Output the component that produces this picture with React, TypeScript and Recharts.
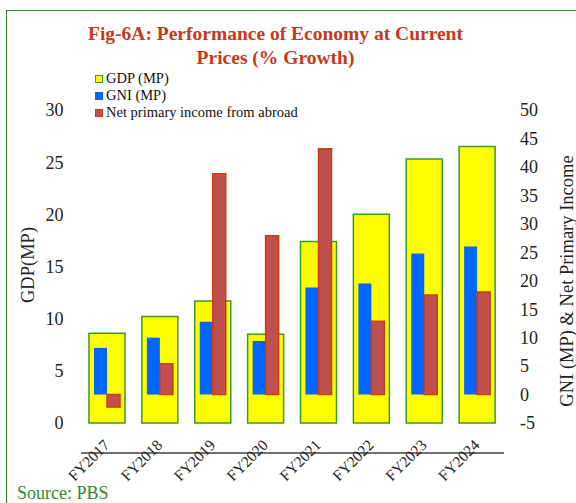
import React from 'react'
import { ComposedChart, Bar, XAxis, YAxis, Legend } from 'recharts'

const years = ['FY2017', 'FY2018', 'FY2019', 'FY2020', 'FY2021', 'FY2022', 'FY2023', 'FY2024']
const gdp = [8.6, 10.2, 11.7, 8.5, 17.4, 20.0, 25.3, 26.5]
const gni = [8.2, 10.0, 12.8, 9.4, 18.8, 19.5, 24.8, 26.0]
const netIncome = [-2.2, 5.4, 38.8, 27.9, 43.2, 12.9, 17.5, 18.0]
const leftTicks = [0, 5, 10, 15, 20, 25, 30]
const rightTicks = [-5, 0, 5, 10, 15, 20, 25, 30, 35, 40, 45, 50]

const rows = years.map((year, i) => ({ year, gdp: gdp[i], gni: gni[i], net: netIncome[i] }))

const FONT = '"Liberation Serif", "Times New Roman", serif'
const TICK = { fontSize: 18, fill: '#222', fontFamily: FONT }

// rotated year labels, end of text sits just right of and below the category centre
function YearTick(props: any) {
    const { x, y, payload } = props
    const ax = x + 3
    const ay = y - 7
    return (
        <text x={ax} y={ay} transform={`rotate(-45, ${ax}, ${ay})`} textAnchor="end"
            fontSize={15.5} fontFamily={FONT} fill="#222">
            {payload.value}
        </text>
    )
}

function LegendBox(props: any) {
    const items = props.payload || []
    return (
        <div style={{ fontFamily: FONT, fontSize: 14.5, lineHeight: '17px', color: '#111' }}>
            {items.map((it: any) => (
                <div key={it.value} style={{ display: 'flex', alignItems: 'center', whiteSpace: 'nowrap' }}>
                    <span style={{
                        display: 'inline-block', width: 8, height: 8, boxSizing: 'border-box', marginRight: 3,
                        background: it.payload?.fill ?? it.color,
                        border: `1.5px solid ${it.payload?.stroke ?? it.color}`,
                    }} />
                    {it.value}
                </div>
            ))}
        </div>
    )
}

export default function App() {
    return (
        <div style={{ position: 'absolute', left: 0, top: 0, width: 576, height: 503, overflow: 'hidden', background: '#fff' }}>
            {/* green frame, only top and left edges show */}
            <div style={{ position: 'absolute', left: 6, top: 10, right: -10, bottom: -10, borderTop: '1.5px solid #2a8c2a', borderLeft: '1.5px solid #2a8c2a' }} />

            <div style={{
                position: 'absolute', left: 25.5, top: 22, width: 500, textAlign: 'center',
                fontFamily: FONT, fontWeight: 'bold', fontSize: 19.5, lineHeight: '24px', color: '#c8381a',
            }}>
                Fig-6A: Performance of Economy at Current<br />Prices (% Growth)
            </div>

            <div style={{ position: 'absolute', left: 0, top: 0 }}>
                <ComposedChart width={576} height={503} data={rows} barGap={0}
                    margin={{ top: 110, right: 0, bottom: 0, left: 0 }}>
                    <XAxis xAxisId="main" dataKey="year" height={80} interval={0}
                        axisLine={{ stroke: '#404040', strokeWidth: 1.5 }} tickLine={false}
                        tickSize={0} tickMargin={0} tick={<YearTick />} />
                    <XAxis xAxisId="inner" dataKey="year" hide />
                    <YAxis yAxisId="left" width={81} domain={[0, 30]} ticks={leftTicks} interval={0}
                        axisLine={false} tickLine={false} tickMargin={11.5} tick={TICK}
                        label={{ value: 'GDP(MP)', angle: -90, position: 'center', dx: -13.5, dy: -1.5,
                            fontSize: 18.5, fontFamily: FONT, fill: '#222' }} />
                    <YAxis yAxisId="right" orientation="right" width={72} domain={[-5, 50]} ticks={rightTicks} interval={0}
                        axisLine={false} tickLine={false} tickMargin={10} tick={TICK}
                        label={{ value: 'GNI (MP) & Net Primary Income', angle: -90, position: 'center', dx: 26, dy: 14.5,
                            fontSize: 18.5, fontFamily: FONT, fill: '#222' }} />
                    <Legend layout="vertical" align="center" verticalAlign="middle" content={<LegendBox />}
                        wrapperStyle={{ left: 95, top: 70, width: 'auto' }} />
                    <Bar name="GDP (MP)" dataKey="gdp" xAxisId="main" yAxisId="left" barSize={36}
                        fill="#ffff00" stroke="#3a9a2a" strokeWidth={1.5} isAnimationActive={false} />
                    <Bar name="GNI (MP)" dataKey="gni" xAxisId="inner" yAxisId="right" barSize={13}
                        fill="#0066ff" stroke="#0066ff" strokeWidth={0} isAnimationActive={false} />
                    <Bar name="Net primary income from abroad" dataKey="net" xAxisId="inner" yAxisId="right" barSize={13}
                        fill="#c0504d" stroke="#d03a10" strokeWidth={1.5} isAnimationActive={false} />
                </ComposedChart>
            </div>

            <div style={{ position: 'absolute', left: 17, top: 483, fontFamily: FONT, fontSize: 18, lineHeight: '20px', color: '#2a8c2a' }}>
                Source: PBS
            </div>
        </div>
    )
}
